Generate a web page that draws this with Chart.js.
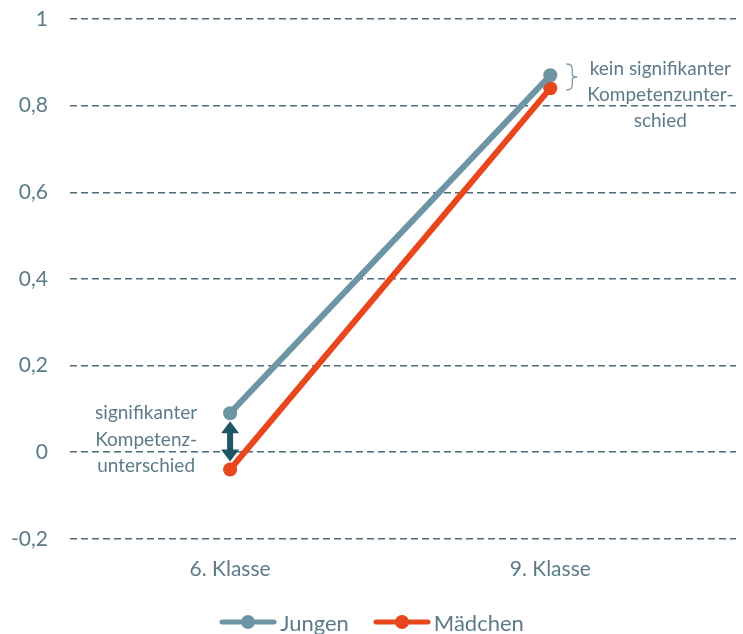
<!DOCTYPE html>
<html>
<head>
<meta charset="utf-8">
<script src="https://cdn.jsdelivr.net/npm/chart.js@4"></script>
<style>
  html, body { margin: 0; padding: 0; background: #fff; }
  #wrap { position: relative; width: 743px; height: 634px; }
  #legend {
    position: absolute; left: 0; right: 0; top: 609px; height: 26px;
    display: flex; justify-content: center; align-items: center; gap: 24px;
    font: 22px Lato, "Open Sans", sans-serif; color: #5c7b89;
  }
  #legend .item { display: flex; align-items: center; gap: 3px; }
</style>
</head>
<body>
<div id="wrap">
  <canvas id="kompetenzChart" width="743" height="634"></canvas>
  <div id="legend"></div>
</div>
<script>
const categories = ['6. Klasse', '9. Klasse'];
const jungen = [0.09, 0.87];
const maedchen = [-0.04, 0.84];
const yTicks = [-0.2, 0, 0.2, 0.4, 0.6, 0.8, 1];

const textColor = '#5c7b89';
const jungenColor = '#6e95a4';
const maedchenColor = '#e8461c';
const arrowColor = '#1f5667';
const fontFamily = 'Lato, "Open Sans", sans-serif';

// legend symbol: short line with a dot in the middle
function legendSymbol(color) {
  const c = document.createElement('canvas');
  c.width = 58; c.height = 16;
  const g = c.getContext('2d');
  g.strokeStyle = color;
  g.lineWidth = 5;
  g.lineCap = 'round';
  g.beginPath(); g.moveTo(3, 8); g.lineTo(55, 8); g.stroke();
  g.fillStyle = color;
  g.beginPath(); g.arc(29, 8, 7, 0, Math.PI * 2); g.fill();
  return c;
}

const notes = {
  id: 'notes',
  afterDatasetsDraw(chart) {
    const { ctx, scales: { x, y } } = chart;
    ctx.save();
    ctx.fillStyle = textColor;
    ctx.font = '19px ' + fontFamily;
    ctx.textAlign = 'center';
    ctx.textBaseline = 'middle';

    // left note
    const lx = x.getPixelForValue(0);
    ['signifikanter', 'Kompetenz-', 'unterschied'].forEach((t, i) => {
      ctx.fillText(t, lx - 84, 413 + i * 26.5);
    });

    // double arrow between the two 6. Klasse points
    const top = y.getPixelForValue(jungen[0]) + 8;
    const bot = y.getPixelForValue(maedchen[0]) - 8;
    ctx.fillStyle = arrowColor;
    ctx.strokeStyle = arrowColor;
    ctx.lineWidth = 6;
    ctx.beginPath(); ctx.moveTo(lx, top + 8); ctx.lineTo(lx, bot - 8); ctx.stroke();
    ctx.beginPath(); ctx.moveTo(lx, top); ctx.lineTo(lx - 9, top + 12); ctx.lineTo(lx + 9, top + 12); ctx.closePath(); ctx.fill();
    ctx.beginPath(); ctx.moveTo(lx, bot); ctx.lineTo(lx - 9, bot - 12); ctx.lineTo(lx + 9, bot - 12); ctx.closePath(); ctx.fill();

    // right note with brace
    const rx = x.getPixelForValue(1);
    ctx.fillStyle = textColor;
    ['kein signifikanter', 'Kompetenzunter-', 'schied'].forEach((t, i) => {
      ctx.fillText(t, rx + 110, 69 + i * 26);
    });
    ctx.strokeStyle = '#7f9aa6';
    ctx.lineWidth = 1.3;
    const bx = rx + 16, by0 = 64, by1 = 90, bm = 77;
    ctx.beginPath();
    ctx.moveTo(bx, by0);
    ctx.quadraticCurveTo(bx + 6, by0, bx + 6, by0 + 5);
    ctx.lineTo(bx + 6, bm - 3);
    ctx.quadraticCurveTo(bx + 6, bm, bx + 11, bm);
    ctx.quadraticCurveTo(bx + 6, bm, bx + 6, bm + 3);
    ctx.lineTo(bx + 6, by1 - 5);
    ctx.quadraticCurveTo(bx + 6, by1, bx, by1);
    ctx.stroke();
    ctx.restore();
  }
};

const ctx = document.getElementById('kompetenzChart').getContext('2d');
const kompetenzChart = new Chart(ctx, {
  type: 'line',
  data: {
    datasets: [
      {
        label: 'Jungen',
        data: categories.map((c, i) => ({ x: i, y: jungen[i] })),
        borderColor: jungenColor,
        backgroundColor: jungenColor,
        borderWidth: 6,
        pointRadius: 7,
        pointHoverRadius: 7,
        pointBorderWidth: 0
      },
      {
        label: 'Mädchen',
        data: categories.map((c, i) => ({ x: i, y: maedchen[i] })),
        borderColor: maedchenColor,
        backgroundColor: maedchenColor,
        borderWidth: 6,
        pointRadius: 7,
        pointHoverRadius: 7,
        pointBorderWidth: 0
      }
    ]
  },
  options: {
    responsive: false,
    animation: false,
    layout: { padding: { top: 19, right: 0, left: 0, bottom: 42 } },
    plugins: {
      tooltip: { enabled: false },
      legend: { display: false }
    },
    scales: {
      x: {
        type: 'linear',
        min: -0.5,
        max: 1.58,
        afterBuildTicks(scale) { scale.ticks = categories.map((c, i) => ({ value: i })); },
        afterFit(scale) { scale.paddingLeft = 0; scale.paddingRight = 0; },
        ticks: {
          color: textColor,
          font: { family: fontFamily, size: 21 },
          padding: 10,
          callback: (v) => categories[v]
        },
        grid: { display: false },
        border: { display: false }
      },
      y: {
        min: yTicks[0],
        max: yTicks[yTicks.length - 1],
        afterBuildTicks(scale) { scale.ticks = yTicks.map(v => ({ value: v })); },
        afterFit(scale) { scale.width = 70; scale.paddingTop = 0; scale.paddingBottom = 0; },
        ticks: {
          color: textColor,
          font: { family: fontFamily, size: 21 },
          padding: 22,
          callback: (v) => String(Math.round(v * 10) / 10).replace('.', ',')
        },
        grid: {
          color: '#4f6b77',
          lineWidth: 1.5,
          drawTicks: false
        },
        border: { display: false, dash: [7, 4] }
      }
    }
  },
  plugins: [notes]
});

// html legend built from the datasets
const legendEl = document.getElementById('legend');
kompetenzChart.data.datasets.forEach(ds => {
  const item = document.createElement('div');
  item.className = 'item';
  item.appendChild(legendSymbol(ds.borderColor));
  const label = document.createElement('span');
  label.textContent = ds.label;
  item.appendChild(label);
  legendEl.appendChild(item);
});
</script>
</body>
</html>
